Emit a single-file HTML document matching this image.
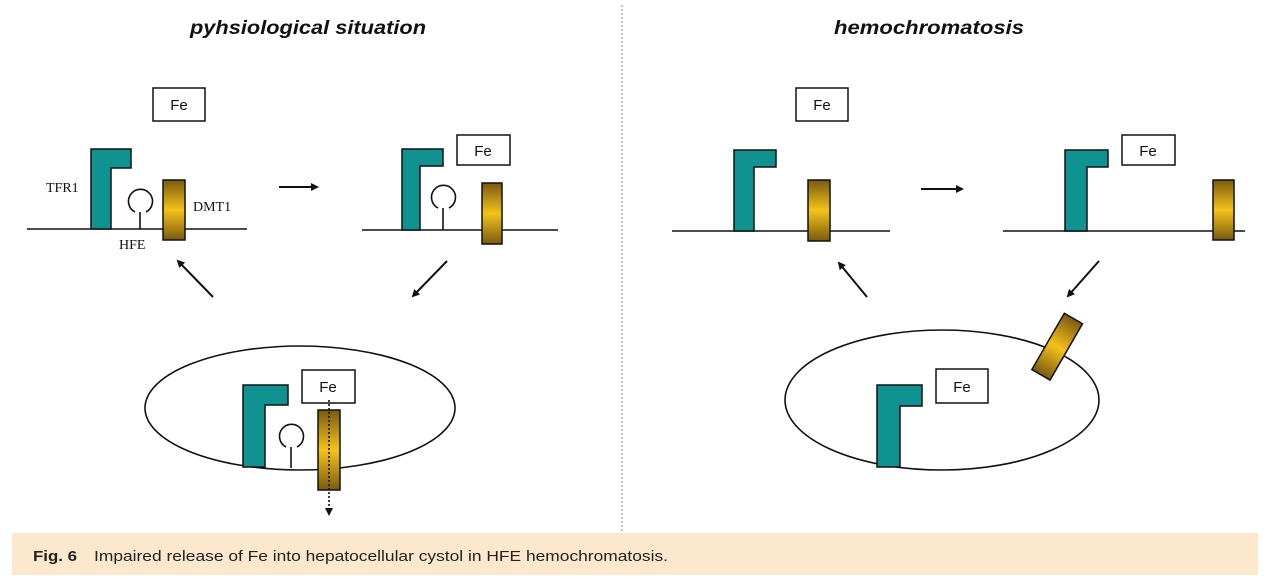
<!DOCTYPE html>
<html><head><meta charset="utf-8"><style>
html,body{margin:0;padding:0;background:#fff;}
svg{display:block;}
</style></head><body>
<svg width="1268" height="588" viewBox="0 0 1268 588" xmlns="http://www.w3.org/2000/svg">
<defs>
<linearGradient id="gv" x1="0" y1="0" x2="0" y2="1">
<stop offset="0" stop-color="#7a5a10"/><stop offset="0.5" stop-color="#f5c21a"/><stop offset="1" stop-color="#7a5a10"/>
</linearGradient>
<marker id="ah" markerWidth="8" markerHeight="8" refX="6" refY="4" orient="auto" markerUnits="userSpaceOnUse">
<path d="M0,0 L8,4 L0,8 z" fill="#111"/></marker>
</defs>
<g font-family="Liberation Sans, sans-serif" font-weight="bold" font-style="italic" font-size="19" fill="#111">
<text x="190" y="34" textLength="236" lengthAdjust="spacingAndGlyphs">pyhsiological situation</text>
<text x="834" y="34" textLength="190" lengthAdjust="spacingAndGlyphs">hemochromatosis</text>
</g>
<line x1="622" y1="5" x2="622" y2="532" stroke="#999" stroke-width="1.2" stroke-dasharray="2,2"/>
<g stroke="#111" stroke-width="1.6" fill="none">
<line x1="27" y1="229" x2="247" y2="229"/>
<line x1="140" y1="229" x2="140" y2="212"/>
<path d="M135,212 A12,12 0 1 1 146,212" />
<line x1="362" y1="230" x2="558" y2="230"/>
<line x1="443" y1="230" x2="443" y2="208"/>
<path d="M438,208 A12,12 0 1 1 449,208"/>
<line x1="672" y1="231" x2="890" y2="231"/>
<line x1="1003" y1="231" x2="1245" y2="231"/>
<ellipse cx="300" cy="408" rx="155" ry="62"/>
<ellipse cx="942" cy="400" rx="157" ry="70"/>
<line x1="291" y1="468" x2="291" y2="447"/>
<path d="M286,447 A12,12 0 1 1 297,447"/>
</g>
<g fill="#0f9290" stroke="#111" stroke-width="1.5">
<path d="M91,149 H131 V168 H111 V229 H91 Z"/>
<path d="M402,149 H443 V166 H420 V230 H402 Z"/>
<path d="M734,150 H776 V167 H754 V231 H734 Z"/>
<path d="M1065,150 H1108 V167 H1087 V231 H1065 Z"/>
<path d="M243,385 H288 V405 H265 V467 H243 Z"/>
<path d="M877,385 H922 V406 H900 V467 H877 Z"/>
</g>
<g fill="url(#gv)" stroke="#111" stroke-width="1.5">
<rect x="163" y="180" width="22" height="60"/>
<rect x="482" y="183" width="20" height="61"/>
<rect x="808" y="180" width="22" height="61"/>
<rect x="1213" y="180" width="21" height="60"/>
<rect x="318" y="410" width="22" height="80"/>
<rect x="1047" y="314" width="21" height="65" transform="rotate(30 1057 346)"/>
</g>
<g fill="#fff" stroke="#111" stroke-width="1.5">
<rect x="153" y="88" width="52" height="33"/>
<rect x="457" y="135" width="53" height="30"/>
<rect x="796" y="88" width="52" height="33"/>
<rect x="1122" y="135" width="53" height="30"/>
<rect x="302" y="370" width="53" height="33"/>
<rect x="936" y="369" width="52" height="34"/>
</g>
<g font-family="Liberation Sans, sans-serif" font-size="15" fill="#111" text-anchor="middle">
<text x="179" y="110">Fe</text>
<text x="483" y="156">Fe</text>
<text x="822" y="110">Fe</text>
<text x="1148" y="156">Fe</text>
<text x="328" y="392">Fe</text>
<text x="962" y="392">Fe</text>
</g>
<g font-family="Liberation Serif, serif" font-size="14" fill="#111">
<text x="46" y="192">TFR1</text>
<text x="193" y="211">DMT1</text>
<text x="119" y="249">HFE</text>
</g>
<line x1="329" y1="400" x2="329" y2="514" stroke="#111" stroke-width="1.6" stroke-dasharray="2,2" marker-end="url(#ah)"/>
<g stroke="#111" stroke-width="2" marker-end="url(#ah)">
<line x1="279" y1="187" x2="317" y2="187"/>
<line x1="447" y1="261" x2="413" y2="296"/>
<line x1="213" y1="297" x2="178" y2="261"/>
<line x1="921" y1="189" x2="962" y2="189"/>
<line x1="1099" y1="261" x2="1068" y2="296"/>
<line x1="867" y1="297" x2="839" y2="263"/>
</g>
<rect x="12" y="533" width="1246" height="42" fill="#fce8cc"/>
<text x="33" y="561" font-family="Liberation Sans, sans-serif" font-size="15" fill="#222"><tspan font-weight="bold" textLength="44" lengthAdjust="spacingAndGlyphs">Fig. 6</tspan><tspan x="94" textLength="574" lengthAdjust="spacingAndGlyphs">Impaired release of Fe into hepatocellular cystol in HFE hemochromatosis.</tspan></text>
</svg>
</body></html>
